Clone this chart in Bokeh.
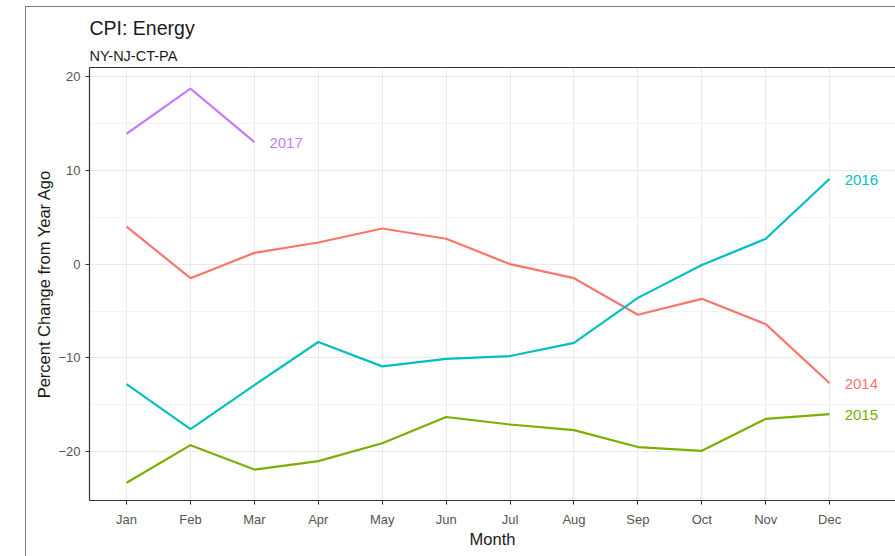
from bokeh.plotting import figure
from bokeh.models import (Range1d, FixedTicker, LinearAxis, Title, ColumnDataSource, InlineStyleSheet)
from bokeh.core.properties import value
from bokeh.embed import file_html
from bokeh.resources import INLINE

months = ["Jan", "Feb", "Mar", "Apr", "May", "Jun", "Jul", "Aug", "Sep", "Oct", "Nov", "Dec"]
y2014 = [4.0, -1.5, 1.2, 2.3, 3.8, 2.7, 0.0, -1.5, -5.4, -3.7, -6.4, -12.7]
y2015 = [-23.3, -19.3, -21.9, -21.0, -19.1, -16.3, -17.1, -17.7, -19.5, -19.9, -16.5, -16.0]
y2016 = [-12.8, -17.6, -12.9, -8.3, -10.9, -10.1, -9.8, -8.4, -3.6, -0.1, 2.7, 9.1]
y2017 = [13.9, 18.7, 13.0]
years = ["2014", "2015", "2016", "2017"]
colors = ["#F8766D", "#7CAE00", "#00BFC4", "#C77CFF"]
y_ticks = [-20, -10, 0, 10, 20]
y_minor = [-25, -15, -5, 5, 15]

FONT = "Liberation Sans"

p = figure(width=895, height=556, output_backend="svg", toolbar_location=None,
           x_range=Range1d(0.42, 13.03), y_range=Range1d(-25.2, 20.96),
           min_border_left=89, min_border_right=0, min_border_top=67, min_border_bottom=56)
p.outline_line_color = None
p.background_fill_color = "white"
p.border_fill_color = "white"

xs = list(range(1, len(months) + 1))

# grid
p.xgrid.ticker = FixedTicker(ticks=xs)
p.ygrid.ticker = FixedTicker(ticks=y_ticks, minor_ticks=y_minor)
for g in (p.xgrid, p.ygrid):
    g.grid_line_color = "#ebebeb"
    g.grid_line_width = 1
p.ygrid.minor_grid_line_color = "#f3f3f3"
p.ygrid.minor_grid_line_width = 1

# axes
xa = p.xaxis[0]
xa.ticker = FixedTicker(ticks=xs)
xa.major_label_overrides = {i + 1: m for i, m in enumerate(months)}
ya = p.yaxis[0]
ya.ticker = FixedTicker(ticks=y_ticks)
for ax in (xa, ya):
    ax.axis_line_color = "#333333"
    ax.axis_line_width = 1.2
    ax.major_tick_line_color = "#333333"
    ax.major_tick_in = 0
    ax.major_tick_out = 4
    ax.minor_tick_line_color = None
    ax.major_label_text_font = FONT
    ax.major_label_text_font_size = "13px"
    ax.major_label_text_color = "#555555"
    ax.axis_label_text_font = FONT
    ax.axis_label_text_font_size = "16.5px"
    ax.axis_label_text_font_style = "normal"
    ax.axis_label_text_color = "#1a1a1a"
xa.axis_label = "Month"
ya.axis_label = "Percent Change from Year Ago"
xa.major_label_standoff = 7
xa.axis_label_standoff = 0
ya.major_label_standoff = 5
ya.axis_label_standoff = 2

top = LinearAxis(ticker=FixedTicker(ticks=[]), axis_line_color="#333333", axis_line_width=1.2,
                 major_tick_line_color=None, minor_tick_line_color=None,
                 major_label_text_font_size="0px", major_label_standoff=0,
                 major_tick_out=0, major_tick_in=0)
p.add_layout(top, "above")

# titles: subtitle nearest the frame, main title above it
p.add_layout(Title(text="NY-NJ-CT-PA", align="left", text_font=FONT, text_font_size="14.5px",
                   text_font_style="normal", text_color="#1a1a1a", standoff=8), "above")
p.add_layout(Title(text="CPI: Energy", align="left", text_font=FONT, text_font_size="19.5px",
                   text_font_style="normal", text_color="#1a1a1a", standoff=6), "above")

# lines and end labels
series = [y2014, y2015, y2016, y2017]
for yr, vals, col in zip(years, series, colors):
    x = xs[:len(vals)]
    p.line(x, vals, line_color=col, line_width=2.2)
    src = ColumnDataSource(dict(x=[x[-1]], y=[vals[-1]], t=[yr]))
    p.text(x="x", y="y", text="t", source=src, x_offset=15, y_offset=1,
           text_color=col, text_font=value(FONT), text_font_size="15px",
           text_baseline="middle", text_align="left")

# outer frame of the image (left and top edges)
css = (":host{position:relative;}"
       ":host::after{content:'';position:absolute;left:25px;top:6px;right:-20px;bottom:-20px;"
       "border-left:1px solid #7a7a7a;border-top:1px solid #7a7a7a;pointer-events:none;z-index:100;}")
p.stylesheets = [InlineStyleSheet(css=css)]

open("out.html", "w").write(file_html(p, INLINE))
